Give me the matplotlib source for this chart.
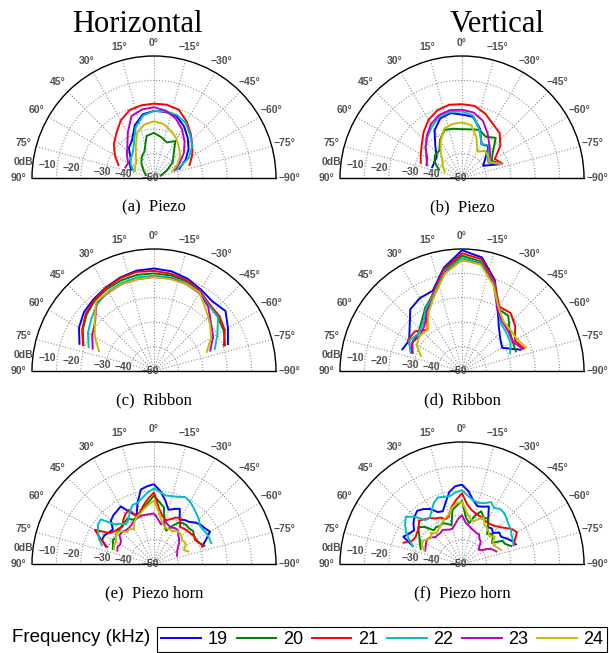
import numpy as np
import matplotlib.pyplot as plt

W, H = 609, 653

freqs = ['19', '20', '21', '22', '23', '24']
colors = ['#0000ff', '#008000', '#ff0000', '#00bfbf', '#bf00bf', '#bfbf00']

# measurement angles (deg), left (+) to right (-)
angles_10 = [70, 60, 50, 40, 30, 20, 10, 0, -10, -20, -30, -40, -50, -60, -70]
angles_5 = [70, 65, 60, 55, 50, 45, 40, 35, 30, 25, 20, 15, 10, 5, 0,
            -5, -10, -15, -20, -25, -30, -35, -40, -45, -50, -55, -60, -65, -70]

# levels in dB, one list per frequency (19..24 kHz)
piezo_h = [
    [-40, -38.5, -37.5, -34, -32, -27, -23.5, -22.5, -22.5, -23, -25.5, -28.5, -31.5, -35, -39],
    [-46.5, -45.5, -44, -42, -40, -38.5, -32.5, -31.5, -33, -34.5, -32.5, -37.5, -40, -44, -47],
    [-34.5, -31.5, -28.5, -26, -22.75, -20.5, -19.75, -19.5, -19.5, -20.25, -23.25, -26.5, -29.5, -32, -34.5],
    [-41, -39, -37.5, -36.5, -33.5, -28, -24, -22.5, -22.25, -22.5, -24, -27, -29.5, -33.5, -40],
    [-37.5, -37.75, -35.5, -33, -28.5, -23, -21.5, -21, -22, -24, -27, -30.5, -34, -38, -41],
    [-41.75, -41, -40.5, -38.5, -35, -30, -27.75, -26.75, -27.5, -29.5, -31.5, -34, -36, -39, -42],
]
piezo_v = [
    [-37, -37, -36.5, -33, -27.5, -24, -23, -24, -24.5, -28.5, -34, -33, -37.5, -40, -33.5],
    [-40, -37, -35.5, -35.5, -32, -29, -29.5, -30, -29.75, -29, -30.5, -28.5, -33.5, -36, -33],
    [-32, -30.5, -28.5, -25.5, -22.5, -20.5, -19.5, -19.75, -20, -22, -24.5, -26, -29.5, -34.5, -32.5],
    [-35, -33, -30.5, -28, -25.5, -23.25, -22.5, -22.75, -24, -29, -34, -32.5, -36.5, -37.5, -33],
    [-34.5, -33.5, -30.5, -27.5, -24.5, -22.5, -21.75, -22, -22.75, -25, -29, -32.5, -35, -37, -33],
    [-42.5, -41, -39.5, -36.5, -32.5, -28.5, -27.5, -27.25, -28, -32.5, -37.5, -35.5, -36, -37, -33],
]
ribbon_h = [
    [-17.5, -14.5, -12.5, -11.5, -10.5, -9.25, -8.25, -8, -8.5, -9.75, -11.5, -12.75, -11.75, -15, -17.75],
    [-19.25, -16.25, -14, -12.25, -11.25, -10.5, -10, -10, -10.25, -11, -12.5, -14.5, -15.75, -17, -19],
    [-19, -16, -13.5, -12, -10.75, -9.5, -8.75, -9, -9.5, -10.5, -12.25, -14.5, -15, -16.5, -19.5],
    [-21.5, -18.75, -16.5, -14, -12.25, -11.5, -11, -11, -11, -11.5, -12.75, -15, -15.75, -20, -23.5],
    [-23.25, -20.75, -18.5, -13.25, -12.75, -12, -11.75, -11.5, -11.5, -12, -13, -15.5, -19.5, -22, -25.5],
    [-26, -22, -18.25, -13, -12.5, -12, -11.75, -11.5, -11.75, -12, -12.75, -17, -20, -23, -27],
]
ribbon_v = [
    [-24, -25, -22, -17, -15.5, -15, -7, -0.5, -2.75, -10.5, -20.75, -26.5, -29.5, -31, -24.5],
    [-28, -26.5, -26.5, -24, -20, -16, -8, -2.75, -4.5, -11.5, -20.5, -20.5, -24.5, -26, -26.5],
    [-28.25, -24.5, -24.75, -28, -21, -15.75, -7.5, -1.75, -3.5, -11, -19.5, -19, -21.5, -25, -23],
    [-27.5, -25, -26.5, -25, -20.5, -16.5, -8.5, -3.75, -5, -11.75, -20.5, -25, -26, -27, -29],
    [-28.5, -26.5, -27.5, -26, -21.5, -17, -9, -4.5, -5.5, -12, -21, -24, -25, -26, -23.5],
    [-32, -28.5, -27.5, -28, -22.5, -17, -9.5, -4.5, -5.75, -12.5, -20, -23.5, -24, -24, -22],
]
horn_h = [
    [-29, -26.5, -26.5, -27.5, -28, -25, -24, -23.5, -22.75, -26.5, -29, -24, -19, -18, -17.3,
     -20, -23.5, -27, -26, -25, -29, -28, -27.5, -26, -25, -24.5, -23.5, -26.5, -29],
    [-32, -31.5, -30.5, -31, -30, -30, -29.5, -29, -28.5, -30, -29.5, -28, -26.5, -24.5, -22,
     -24.5, -26.5, -33.5, -35.5, -33, -30.5, -29.5, -29.25, -29.5, -29, -30, -30, -29.5, -28],
    [-29.5, -26, -22, -28, -29, -29.5, -30, -28, -26.5, -25.5, -29, -28, -25.5, -23, -20.75,
     -27, -30, -31.5, -30.5, -29, -28.25, -31.5, -31, -30.75, -30.5, -30, -30.5, -29.5, -28.5],
    [-27.25, -25, -23.5, -22, -21.5, -27, -28.5, -30, -29, -26.5, -24.25, -24, -22.5, -20.5, -19,
     -20.5, -21.5, -21.25, -20.75, -19.75, -20.5, -21.75, -23, -24, -25.5, -25.5, -25, -25, -25],
    [-34, -33.5, -34, -33.5, -31.5, -31.5, -32, -32, -31.5, -30.5, -30, -29.5, -29.5, -29.5, -29.25,
     -31.5, -33.5, -32, -33, -33.5, -33, -33, -34.5, -35.5, -36.5, -38, -39, -39.5, -40],
    [-32.5, -32, -32, -31, -30, -31, -33, -32.5, -33.5, -31, -29.5, -28.5, -27, -25.5, -24,
     -28.5, -32, -34, -34.5, -34.5, -34.5, -33.5, -33.5, -34, -35, -34.5, -35, -36.5, -35],
]
horn_v = [
    [-28.5, -23.5, -25, -26, -24, -22.5, -21.5, -22.5, -24, -26.5, -27, -24, -20, -18, -17.5,
     -20, -23.5, -25.5, -25, -24, -28.5, -31.5, -31, -32, -30, -30.5, -29, -27.5, -26.5],
    [-32, -31, -30, -28.5, -26.5, -28.5, -32, -31.5, -32, -31.5, -32.5, -33.5, -27.5, -26, -24,
     -31, -33, -29.5, -27, -29, -28.5, -31.5, -34, -32.5, -33.5, -35, -31, -30.5, -28.5],
    [-24.5, -27.5, -28, -27.5, -27, -25, -26, -27, -28.5, -29, -30.5, -29.5, -26, -23.5, -21,
     -25.5, -27.5, -28.5, -29, -29.5, -30, -30, -29.5, -28.5, -27, -25, -24, -26, -27.5],
    [-28.5, -26, -23.5, -21.5, -20, -22.5, -26.5, -27, -25, -22.5, -21, -21.5, -21.75, -20.5, -19.75,
     -22, -23.5, -24, -23.5, -22, -23.5, -22.5, -23, -24, -25, -25.5, -26.5, -27, -27.5],
    [-34, -33.5, -33, -32.5, -33, -34.5, -34.5, -34.5, -34, -34.5, -35, -35, -33.5, -31.5, -30,
     -33, -34, -35, -35.5, -36, -36, -37.5, -38, -40, -41, -40, -37.5, -36, -35],
    [-33.5, -32, -31, -32.5, -33.5, -32, -33.5, -33, -32, -31, -30, -29, -26.5, -25, -24.5,
     -28.5, -31, -32, -30.5, -29, -31.5, -32, -33, -34, -32.5, -34.5, -35, -34, -33],
]

theta_labels = ['90°', '75°', '60°', '45°', '30°', '15°', '0°',
                '−15°', '−30°', '−45°', '−60°', '−75°', '−90°']
theta_label_pos = [90, 75, 60, 45, 30, 15, 0, -15, -30, -45, -60, -75, -90]
r_labels = ['0dB', '−10', '−20', '−30', '−40', '−50']
r_label_frac = [1.08, 0.885, 0.68, 0.43, 0.254, 0.03]

panels = [
    ('(a)  Piezo', piezo_h, angles_10, 154, 178),
    ('(b)  Piezo', piezo_v, angles_10, 462, 178),
    ('(c)  Ribbon', ribbon_h, angles_10, 154, 371),
    ('(d)  Ribbon', ribbon_v, angles_10, 462, 371),
    ('(e)  Piezo horn', horn_h, angles_5, 154, 564),
    ('(f)  Piezo horn', horn_v, angles_5, 462, 564),
]

R = 122
fig = plt.figure(figsize=(W / 100, H / 100), dpi=100)
lab_kw = dict(fontsize=7.5, fontweight='bold', color='#505050',
              family='Liberation Sans', ha='center', va='center')

handles = []
for caption, series, angles, cx, cy in panels:
    # half-disc wedge gets centred in a square box
    ax = fig.add_axes([(cx - R) / W, (H - cy - R / 2) / H, 2 * R / W, 2 * R / H],
                      projection='polar')
    ax.set_theta_zero_location('N')
    ax.set_thetamin(-90)
    ax.set_thetamax(90)
    ax.set_ylim(-50, 0)
    ax.set_thetagrids(theta_label_pos, labels=[''] * len(theta_label_pos))
    ax.set_rgrids([-40, -30, -20, -10], labels=[''] * 4)
    ax.grid(True, linestyle=':', color='#909090', linewidth=0.8)
    ax.tick_params(axis='x', direction='in', length=3, width=0.8, colors='k', pad=0)
    for name in ['polar', 'start', 'end']:
        ax.spines[name].set_color('k')
        ax.spines[name].set_linewidth(1.0)
    ax.spines['inner'].set_visible(False)

    th = np.deg2rad(angles)
    handles = []
    for vals, c in zip(series, colors):
        ln, = ax.plot(th, vals, color=c, lw=1.4)
        handles.append(ln)

    for lab, a in zip(theta_labels, theta_label_pos):
        ax.text(np.deg2rad(a), 5.5, lab, **lab_kw)
    for lab, f in zip(r_labels, r_label_frac):
        ax.text(np.deg2rad(83), -50 + 50 * f, lab, **lab_kw)

    fig.text(cx / W, 1 - (cy + 29) / H, caption, ha='center', va='center',
             fontsize=12, family='Liberation Serif')

fig.text(137 / W, 1 - 24 / H, 'Horizontal', ha='center', va='center',
         fontsize=22, family='Liberation Serif')
fig.text(497 / W, 1 - 24 / H, 'Vertical', ha='center', va='center',
         fontsize=22, family='Liberation Serif')

leg = fig.legend(handles, freqs, ncol=6, loc='lower right',
                 bbox_to_anchor=(607 / W, 1 / H), borderaxespad=0,
                 prop={'family': 'Liberation Sans', 'size': 13},
                 handlelength=2.2, handletextpad=0.35, columnspacing=0.5,
                 borderpad=0.22, fancybox=False, edgecolor='k', framealpha=1)
leg.get_frame().set_linewidth(0.8)
fig.text(150 / W, 1 - 638 / H, 'Frequency (kHz)', ha='right', va='center',
         fontsize=13.5, family='Liberation Sans')

fig.savefig('out.png', dpi=100)
